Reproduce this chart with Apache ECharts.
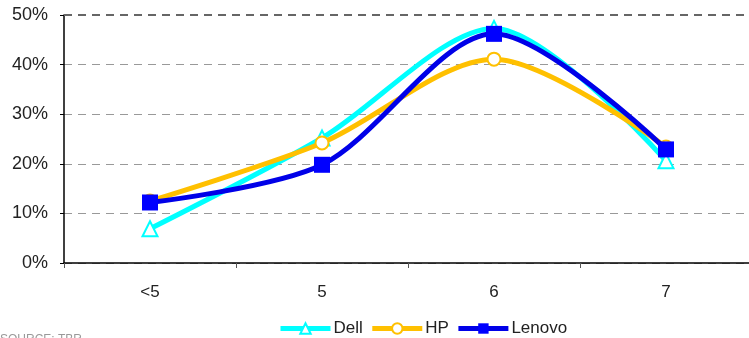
<!DOCTYPE html>
<html><head><meta charset="utf-8">
<script src="https://cdn.jsdelivr.net/npm/echarts@6/dist/echarts.min.js"></script>
<style>html,body{margin:0;padding:0;background:#fff;overflow:hidden}#c{width:752px;height:338px}</style>
</head><body><div id="c"></div>
<script>
const categories = ['<5', '5', '6', '7'];
const dell = [0.069, 0.252, 0.473, 0.206];
const hp = [0.125, 0.242, 0.411, 0.234];
const lenovo = [0.122, 0.198, 0.462, 0.229];
const yTicks = [0, 0.1, 0.2, 0.3, 0.4, 0.5];

const chart = echarts.init(document.getElementById('c'));
const font = 'Liberation Sans, Arial, sans-serif';
function ser(name, data, color, symbol, size, fill, z) {
  return {
    name, type: 'line', data, smooth: 0.3, z,
    symbol, symbolSize: size,
    lineStyle: { color, width: 5 },
    itemStyle: { color: fill, borderColor: color, borderWidth: symbol === 'rect' ? 0 : 2 },
    emphasis: { disabled: true }
  };
}
chart.setOption({
  animation: false,
  grid: { left: 64, right: 0, top: 15, bottom: 75 },
  xAxis: {
    type: 'category', data: categories, boundaryGap: true,
    axisLine: { lineStyle: { color: '#000', width: 1.5 } },
    axisTick: { show: true, length: 5, lineStyle: { color: '#555' } },
    axisLabel: { color: '#222', fontSize: 17, fontFamily: font, margin: 21 }
  },
  yAxis: {
    type: 'value', min: 0, max: 0.5, interval: 0.1,
    axisLine: { show: true, lineStyle: { color: '#000', width: 1.5 } },
    axisTick: { show: true, length: 4, lineStyle: { color: '#000' } },
    axisLabel: { color: '#222', fontSize: 18, fontFamily: font, margin: 16,
      formatter: v => Math.round(v * 100) + '%' },
    splitLine: { show: true, lineStyle: { color: '#999', type: [8, 6], width: 1 } }
  },
  legend: {
    bottom: -4, left: 273, itemWidth: 50, itemHeight: 13, itemGap: 7,
    textStyle: { fontSize: 17, color: '#222', fontFamily: font, padding: [0, 0, 0, -2] },
    lineStyle: { width: 5 },
    data: ['Dell', 'HP', 'Lenovo']
  },
  graphic: [
    { type: 'line', shape: { x1: 64, y1: 15, x2: 752, y2: 15 },
      style: { stroke: '#666', lineWidth: 2, lineDash: [8, 6] }, z: 1 },
    { type: 'text', left: 0, top: 334, style: { text: 'SOURCE: TBR', fill: '#999', fontSize: 12, fontFamily: font } }
  ],
  series: [
    ser('Dell', dell, '#00FFFF', 'triangle', 15, '#fff', 2),
    ser('HP', hp, '#FFC000', 'circle', 13, '#fff', 3),
    ser('Lenovo', lenovo, '#0000E8', 'rect', 16, '#0000FF', 4)
  ]
});
</script></body></html>
